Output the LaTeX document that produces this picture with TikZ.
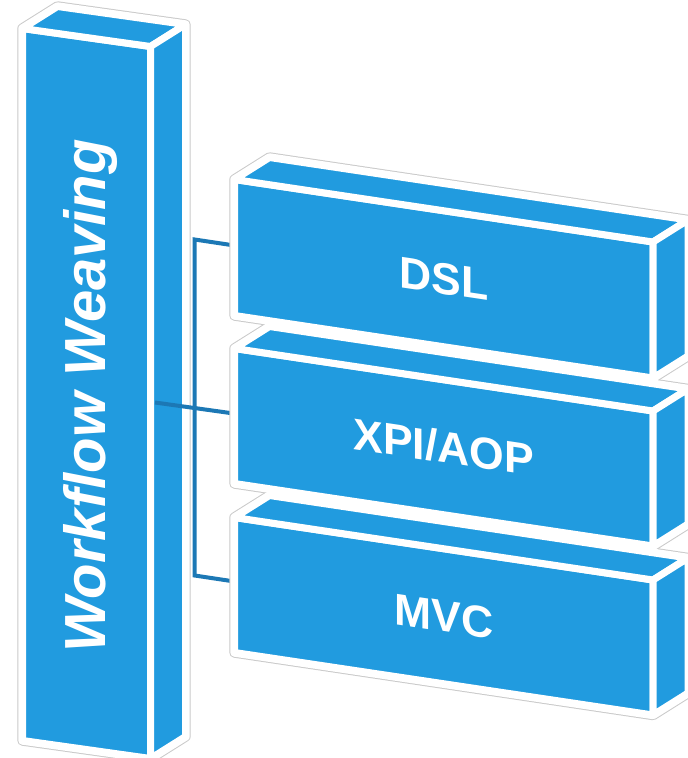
\documentclass[tikz,border=0pt]{standalone}
\usepackage{fontspec}
\setmainfont{Liberation Sans}
\usetikzlibrary{calc}

\definecolor{boxblue}{HTML}{219BDF}
\definecolor{linkblue}{HTML}{1C78B5}
\definecolor{rimgray}{HTML}{CACACA}

% A block seen in perspective: front face, top face and right side face.
% #1 name, #2/#3 front top-left corner, #4 width, #5 height, #6 rise of the front top edge
\newcommand\defblock[6]{%
  \coordinate (#1-A) at (#2,#3);
  \coordinate (#1-B) at ($(#1-A)+(#4,#6)$);
  \coordinate (#1-C) at ($(#1-B)+(0,#5)$);
  \coordinate (#1-D) at ($(#1-A)+(0,#5)$);
  \coordinate (#1-Ab) at ($(#1-A)+(35,-22)$);
  \coordinate (#1-Bb) at ($(#1-B)+(35,-22)$);
  \coordinate (#1-Cb) at ($(#1-C)+(35,-22)$);
}
\newcommand\blockrim[1]{%
  \draw[rimline] (#1-D) -- (#1-A) -- (#1-Ab) -- (#1-Bb) -- (#1-Cb) -- (#1-C) -- cycle;}
\newcommand\blockhalo[1]{%
  \draw[halo] (#1-D) -- (#1-A) -- (#1-Ab) -- (#1-Bb) -- (#1-Cb) -- (#1-C) -- cycle;}
\newcommand\blockfaces[1]{%
  \draw[face] (#1-A) -- (#1-B) -- (#1-C) -- (#1-D) -- cycle;
  \draw[face] (#1-A) -- (#1-Ab) -- (#1-Bb) -- (#1-B) -- cycle;
  \draw[face] (#1-B) -- (#1-Bb) -- (#1-Cb) -- (#1-C) -- cycle;}

\tikzset{
  rimline/.style={draw=rimgray, line width=10.4pt, line join=round},
  halo/.style={draw=white, fill=white, line width=8.4pt, line join=round},
  face/.style={fill=boxblue, draw=white, line width=7pt, line join=round},
  link/.style={draw=linkblue, line width=4pt, line join=miter},
  blocklabel/.style={text=white, inner sep=0pt, yslant=-0.15,
    font=\bfseries\fontsize{44.5}{50}\selectfont},
}

\begin{document}
\begin{tikzpicture}[x=1pt, y=-1pt]
  \clip (0,0) rectangle (688,758);
  \fill[white] (0,0) rectangle (688,758);

  % tall block on the left
  \defblock{ww}{22.5}{28.5}{128}{712}{18}
  \blockrim{ww}
  \blockhalo{ww}
  \blockfaces{ww}
  \node[rotate=90, anchor=base, text=white, inner sep=0pt,
        font=\bfseries\itshape\fontsize{58}{62}\selectfont] (weaving) at (105,396) {Workflow Weaving};

  % the three blocks on the right
  \defblock{dsl}{234.5}{179.5}{418.5}{136}{62.5}
  \defblock{xpi}{234.5}{348.5}{418.5}{135}{62.5}
  \defblock{mvc}{234.5}{517.5}{418.5}{135}{62.5}

  % connectors
  \coordinate (trunk-top) at (194.7,239.5);
  \coordinate (trunk-bot) at (194.7,575.5);
  \coordinate (dsl-in) at (234.5,245.5);
  \coordinate (mvc-in) at (234.5,581.5);
  \coordinate (ww-out) at (155,402.5);
  \coordinate (xpi-in) at (234.5,413.6);
  \draw[link] (dsl-in) -- (trunk-top) -- (trunk-bot) -- (mvc-in);
  \draw[link] (ww-out) -- (xpi-in);

  \blockrim{dsl}\blockrim{xpi}\blockrim{mvc}
  \blockhalo{dsl}\blockhalo{xpi}\blockhalo{mvc}
  \blockfaces{dsl}\blockfaces{xpi}\blockfaces{mvc}

  \node[blocklabel] (dsl-label) at (443.75,278.75) {DSL};
  \node[blocklabel] (xpi-label) at (443.75,447) {XPI/AOP};
  \node[blocklabel] (mvc-label) at (443.75,616.5) {MVC};
\end{tikzpicture}
\end{document}
